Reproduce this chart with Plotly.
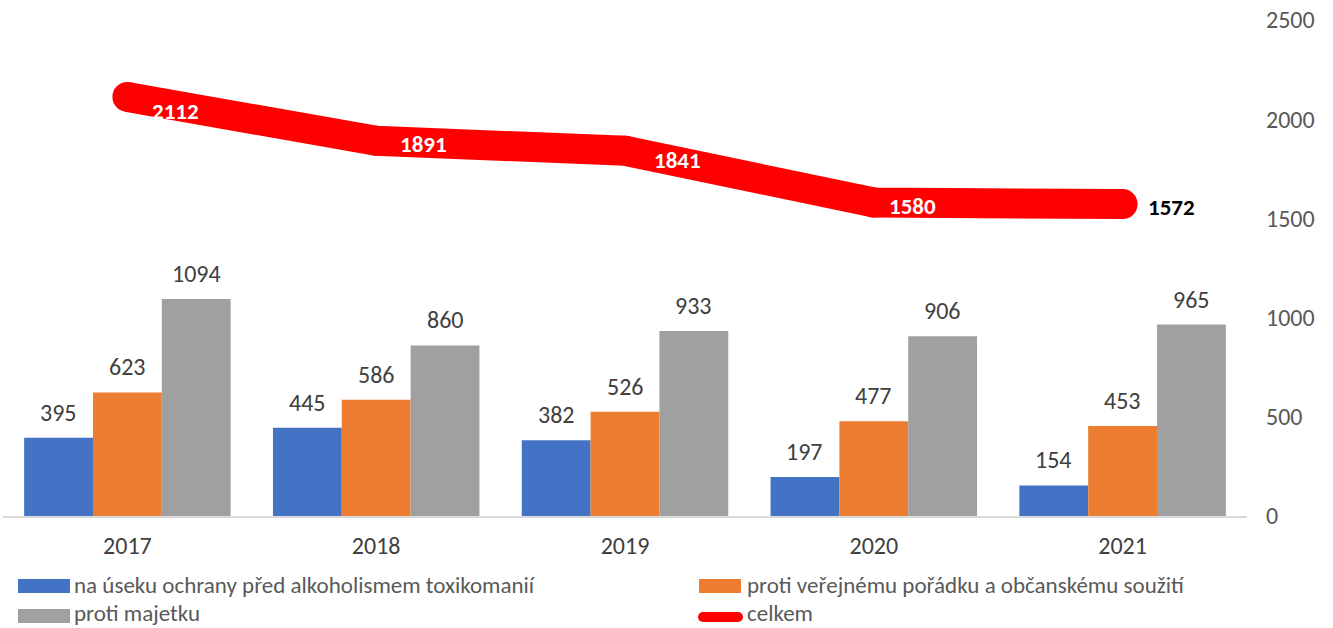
import plotly.graph_objects as go

years = ["2017", "2018", "2019", "2020", "2021"]
alkohol = [395, 445, 382, 197, 154]
poradek = [623, 586, 526, 477, 453]
majetek = [1094, 860, 933, 906, 965]
celkem = [2112, 1891, 1841, 1580, 1572]

names = ["na úseku ochrany před alkoholismem toxikomanií",
         "proti veřejnému pořádku a občanskému soužití",
         "proti majetku",
         "celkem"]
colors = ["#4472C4", "#ED7D31", "#A0A0A0", "#FF0000"]

FONT = "Carlito, Lato, sans-serif"
FS = 24
W, H = 1333, 628
ML, MR, MT, MB = 3, 86, 20, 112
BARGAP = 0.17

fig = go.Figure()
xs = list(range(len(years)))
series = [alkohol, poradek, majetek]
for s, vals in enumerate(series):
    fig.add_trace(go.Bar(x=xs, y=vals, name=names[s], marker_color=colors[s],
                         marker_line_width=0, showlegend=False))

fig.add_trace(go.Scatter(x=xs, y=celkem, name=names[3], mode="lines+markers",
                         line=dict(color=colors[3], width=30),
                         marker=dict(color=colors[3], size=30),
                         showlegend=False))

bw = (1 - BARGAP) / 3
annotations = []
for s, vals in enumerate(series):
    for i, v in enumerate(vals):
        annotations.append(dict(x=i + (s - 1) * bw, y=v, text=str(v), showarrow=False,
                                yanchor="bottom", yshift=9,
                                font=dict(family=FONT, size=FS, color="#404040")))

line_yshift = [-14, -3, -9, -3, -3]
line_xshift = [23, 22, 27, 13, 23]
for i, v in enumerate(celkem):
    last = i == len(celkem) - 1
    annotations.append(dict(x=i, y=v, text="<b>%d</b>" % v, showarrow=False,
                            xanchor="left", xshift=line_xshift[i], yshift=line_yshift[i],
                            font=dict(family=FONT, size=FS - 1,
                                      color="#000000" if last else "#FFFFFF")))

pw, ph = W - ML - MR, H - MT - MB
def px(x):
    return (x - ML) / pw
def py(y):
    return (H - MB - y) / ph

shapes = []
leg = [(18, 70, 579, 593, 72, 585), (699, 741, 579, 593, 745, 585),
       (18, 70, 609, 623, 72, 613), (698, 743, 612, 622, 745, 613)]
for k, (x0, x1, y0, y1, tx, ty) in enumerate(leg):
    if k < 3:
        shapes.append(dict(type="rect", xref="paper", yref="paper",
                           x0=px(x0), x1=px(x1), y0=py(y1), y1=py(y0),
                           fillcolor=colors[k], line_width=0))
    else:
        r = (y1 - y0) / 2
        shapes.append(dict(type="rect", xref="paper", yref="paper",
                           x0=px(x0 + r), x1=px(x1 - r), y0=py(y1), y1=py(y0),
                           fillcolor=colors[3], line_width=0))
        for cx in (x0 + r, x1 - r):
            shapes.append(dict(type="circle", xref="paper", yref="paper",
                               x0=px(cx - r), x1=px(cx + r), y0=py(y1), y1=py(y0),
                               fillcolor=colors[3], line_width=0))
    annotations.append(dict(xref="paper", yref="paper", x=px(tx), y=py(ty),
                            xanchor="left", yanchor="middle", showarrow=False,
                            text=names[k],
                            font=dict(family=FONT, size=FS - 1, color="#595959")))

fig.update_layout(
    width=W, height=H,
    margin=dict(l=ML, r=MR, t=MT, b=MB),
    barmode="group", bargap=BARGAP, bargroupgap=0,
    plot_bgcolor="white", paper_bgcolor="white",
    showlegend=False,
    annotations=annotations, shapes=shapes,
    xaxis=dict(tickmode="array", tickvals=xs, ticktext=years,
               range=[-0.5, len(years) - 0.5],
               showline=True, linecolor="#D9D9D9", linewidth=2,
               showgrid=False, zeroline=False, ticks="",
               ticklabelstandoff=7,
               tickfont=dict(family=FONT, size=FS, color="#404040")),
    yaxis=dict(side="right", range=[0, 2500], dtick=500, showgrid=False,
               zeroline=False, showline=False, ticks="",
               ticklabelstandoff=18,
               tickfont=dict(family=FONT, size=FS, color="#595959")),
)

fig.write_html("out.html", config={"displayModeBar": False},
               post_script="document.body.style.margin='0';document.body.style.overflow='hidden';")
